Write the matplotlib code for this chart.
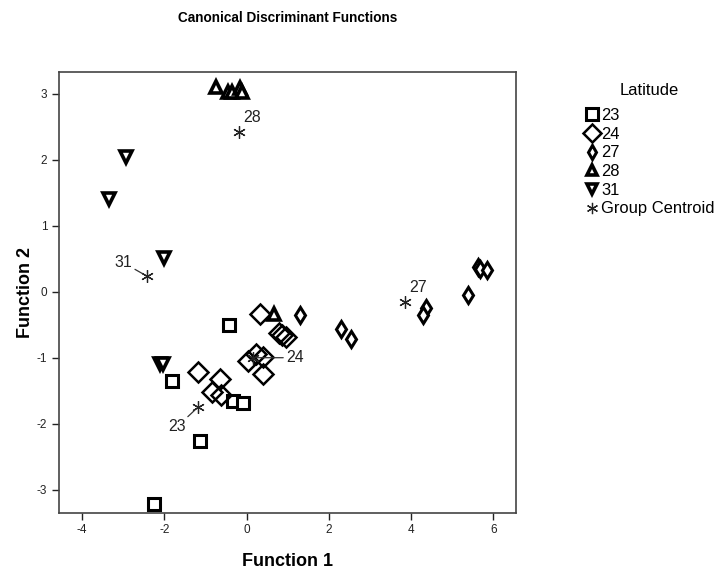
import numpy as np
import matplotlib
matplotlib.use("Agg")
import matplotlib.pyplot as plt
from matplotlib import font_manager

plt.rcParams['font.family'] = ['Liberation Sans', 'DejaVu Sans']
plt.rcParams['axes.unicode_minus'] = False

names = {f.name for f in font_manager.fontManager.ttflist}
narrow = 'Liberation Sans Narrow' in names
nfam = ['Liberation Sans Narrow', 'DejaVu Sans'] if narrow else ['Liberation Sans', 'DejaVu Sans']
k = 1.0 if narrow else 0.82  # size factor when narrow face missing

# function scores, per latitude group
x23 = [-0.43, -1.81, -1.13, -2.26, -0.33, -0.08]
y23 = [-0.51, -1.36, -2.27, -3.22, -1.65, -1.68]

x24 = [0.32, 0.80, 0.87, 0.95, 0.04, 0.24, 0.40, 0.40, -1.18, -0.65, -0.85, -0.61]
y24 = [-0.34, -0.63, -0.66, -0.68, -1.05, -0.94, -0.99, -1.25, -1.22, -1.32, -1.52, -1.57]

x27 = [1.30, 2.29, 2.53, 4.36, 4.30, 5.38, 5.62, 5.68, 5.85]
y27 = [-0.35, -0.56, -0.72, -0.25, -0.35, -0.05, 0.37, 0.35, 0.33]

x28 = [-0.75, -0.45, -0.36, -0.16, -0.10, 0.66]
y28 = [3.11, 3.03, 3.03, 3.09, 3.03, -0.34]

x31 = [-2.92, -3.35, -2.00, -2.10, -2.02]
y31 = [2.04, 1.41, 0.51, -1.09, -1.10]

groups = ['23', '24', '27', '28', '31']
cent_x = [-1.18, 0.16, 3.85, -0.19, -2.43]
cent_y = [-1.75, -1.00, -0.16, 2.43, 0.24]

fig = plt.figure(figsize=(7.24, 5.69), dpi=100)
ax = fig.add_axes([0.0815, 0.099, 0.631, 0.7753])

star = (6, 2, 0)
h23, = ax.plot(x23, y23, 's', ms=9, mfc='white', mec='black', mew=2.2, ls='none')
h24, = ax.plot(x24, y24, 'D', ms=10.5, mfc='none', mec='black', mew=1.8, ls='none')
h27, = ax.plot(x27, y27, 'd', ms=8, mfc='white', mec='black', mew=2.2, ls='none')
h28, = ax.plot(x28, y28, '^', ms=8.5, mfc='white', mec='black', mew=2.6, ls='none')
h31, = ax.plot(x31, y31, 'v', ms=8.5, mfc='white', mec='black', mew=2.6, ls='none')
hc, = ax.plot(cent_x, cent_y, marker=star, ms=9, color='#222222', mew=0.9, ls='none')

# centroid labels
lab_off = {'23': (-0.3, -0.3), '24': (0.8, 0.0), '27': (0.35, 0.22),
           '28': (0.35, 0.22), '31': (-0.35, 0.2)}
with_line = {'23', '24', '31'}
lfs = 14 * k
for g, cx, cy in zip(groups, cent_x, cent_y):
    dx, dy = lab_off[g]
    ha = 'left' if dx > 0 else 'right'
    if g in with_line:
        ax.annotate(g, (cx, cy), xytext=(cx + dx, cy + dy), fontsize=lfs,
                    family=nfam, ha=ha, va='center', color='#222222',
                    arrowprops=dict(arrowstyle='-', color='#333333', lw=0.9,
                                    shrinkA=0, shrinkB=3))
    else:
        ax.text(cx + dx * 0.3, cy + dy, g, fontsize=lfs, family=nfam,
                ha='left', va='center', color='#222222')

ax.set_xlim(-4.56, 6.55)
ax.set_ylim(-3.35, 3.34)
ax.set_xticks([-4, -2, 0, 2, 4, 6])
ax.set_yticks([-3, -2, -1, 0, 1, 2, 3])
ax.tick_params(direction='out', length=5, width=1, labelsize=8.5, colors='#222222')
for s in ax.spines.values():
    s.set_color('#444444')
    s.set_linewidth(1.2)

ax.set_xlabel('Function 1', fontsize=13, fontweight='bold', labelpad=12)
ax.set_ylabel('Function 2', fontsize=13, fontweight='bold', labelpad=2)
fig.text(0.397, 0.968, 'Canonical Discriminant Functions', fontsize=12 * k,
         family=nfam, fontweight='bold', ha='center', va='center')

leg = fig.legend([h23, h24, h27, h28, h31, hc],
                 ['23', '24', '27', '28', '31', 'Group Centroid'],
                 title='Latitude', loc='upper left', bbox_to_anchor=(0.797, 0.865),
                 frameon=False, prop={'family': nfam, 'size': 14.5 * k},
                 title_fontproperties={'family': nfam, 'size': 14.5 * k},
                 handletextpad=0.05, handlelength=1.0, labelspacing=0.22,
                 markerscale=0.9, borderaxespad=0)
leg._legend_box.sep = 7

fig.savefig('out.png', dpi=100)
